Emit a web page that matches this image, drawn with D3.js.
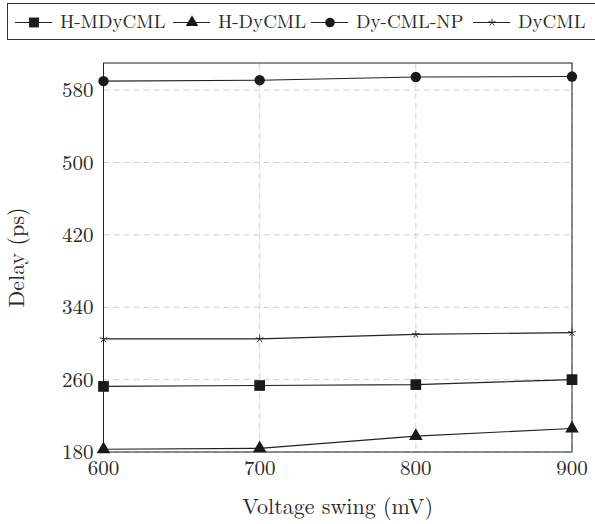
<!DOCTYPE html>
<html>
<head>
<meta charset="utf-8">
<script src="https://cdn.jsdelivr.net/npm/d3@7"></script>
<style>
  body { margin: 0; background: #fff; }
  text { font-family: "Latin Modern Roman", "CMU Serif", "Liberation Serif", serif; fill: #2a2a2a; }
</style>
</head>
<body>
<script>
// data
var swing = [600, 700, 800, 900];
var hMDyCML = [252.5, 253.5, 254.5, 260];
var hDyCML = [183, 184, 197.5, 206];
var dyCMLNP = [590, 591, 594.5, 595];
var dyCML = [305, 305, 310, 312];
var yTicks = [180, 260, 340, 420, 500, 580];
var names = ["H-MDyCML", "H-DyCML", "Dy-CML-NP", "DyCML"];
var symbols = ["square", "triangle", "circle", "star"];

var W = 595, H = 524;
var margin = {top: 63, right: 23, bottom: 72, left: 103.5},
    width = W - margin.left - margin.right,
    height = H - margin.top - margin.bottom;

var svg = d3.select("body").append("svg")
    .attr("width", W)
    .attr("height", H);

var x = d3.scaleLinear().domain([600, 900]).range([margin.left, margin.left + width]);
var y = d3.scaleLinear().domain([180, 610]).range([margin.top + height, margin.top]);

// grid
var grid = svg.append("g").attr("stroke", "#d0d0d0").attr("stroke-dasharray", "6,4").attr("stroke-width", 1);
grid.selectAll("line.v").data(swing).enter().append("line")
    .attr("x1", function (d) { return x(d); }).attr("x2", function (d) { return x(d); })
    .attr("y1", margin.top).attr("y2", margin.top + height);
grid.selectAll("line.h").data(yTicks).enter().append("line")
    .attr("y1", function (d) { return y(d); }).attr("y2", function (d) { return y(d); })
    .attr("x1", margin.left).attr("x2", margin.left + width);

// frame
svg.append("rect")
    .attr("x", margin.left).attr("y", margin.top)
    .attr("width", width).attr("height", height)
    .attr("fill", "none").attr("stroke", "#222").attr("stroke-width", 1);

// tick labels
svg.append("g").selectAll("text").data(yTicks).enter().append("text")
    .attr("x", margin.left - 10)
    .attr("y", function (d) { return y(d) + 7; })
    .attr("text-anchor", "end")
    .attr("font-size", 21)
    .text(function (d) { return d; });
svg.append("g").selectAll("text").data(swing).enter().append("text")
    .attr("x", function (d) { return x(d); })
    .attr("y", margin.top + height + 23)
    .attr("text-anchor", "middle")
    .attr("font-size", 21)
    .text(function (d) { return d; });

svg.append("text")
    .attr("x", margin.left + width / 2)
    .attr("y", 514)
    .attr("text-anchor", "middle")
    .attr("font-size", 22)
    .text("Voltage swing (mV)");
svg.append("text")
    .attr("transform", "translate(24," + (margin.top + height / 2) + ") rotate(-90)")
    .attr("text-anchor", "middle")
    .attr("font-size", 22)
    .text("Delay (ps)");

var markSize = {square: 115, triangle: 80, circle: 85};
var markType = {square: d3.symbolSquare, triangle: d3.symbolTriangle, circle: d3.symbolCircle};

function starPath(r) {
    var p = "";
    for (var i = 0; i < 5; i++) {
        var a = -Math.PI / 2 + i * 2 * Math.PI / 5;
        p += "M0,0L" + (r * Math.cos(a)).toFixed(2) + "," + (r * Math.sin(a)).toFixed(2);
    }
    return p;
}

function drawMark(g, kind, cx, cy, scale) {
    var p;
    if (kind === "star") {
        p = g.append("path").attr("d", starPath(4 * Math.sqrt(scale)))
            .attr("fill", "none").attr("stroke", "#222").attr("stroke-width", 0.9);
    } else {
        var s = d3.symbol().type(markType[kind]).size(markSize[kind] * scale);
        p = g.append("path").attr("d", s()).attr("fill", "#1a1a1a");
    }
    p.attr("transform", "translate(" + cx + "," + cy + ")");
}

var series = [hMDyCML, hDyCML, dyCMLNP, dyCML];
var line = d3.line()
    .x(function (d, i) { return x(swing[i]); })
    .y(function (d) { return y(d); });

series.forEach(function (vals, k) {
    var g = svg.append("g");
    g.append("path").attr("d", line(vals))
        .attr("fill", "none").attr("stroke", "#222").attr("stroke-width", 1.1);
    vals.forEach(function (v, i) {
        drawMark(g, symbols[k], x(swing[i]), y(v), 1);
    });
});

// legend
svg.append("rect")
    .attr("x", 7.5).attr("y", 3.5).attr("width", 600).attr("height", 36)
    .attr("fill", "#fff").attr("stroke", "#333").attr("stroke-width", 1);
var legX = [15, 173, 311, 473];
names.forEach(function (n, k) {
    var g = svg.append("g").attr("transform", "translate(" + legX[k] + ",22.5)");
    g.append("line").attr("x1", 0).attr("x2", 37).attr("y1", 0).attr("y2", 0)
        .attr("stroke", "#222").attr("stroke-width", 1.1);
    drawMark(g, symbols[k], 19, 0, 0.85);
    g.append("text").attr("x", 45).attr("y", 5).attr("font-size", 19).text(n);
});
</script>
</body>
</html>
